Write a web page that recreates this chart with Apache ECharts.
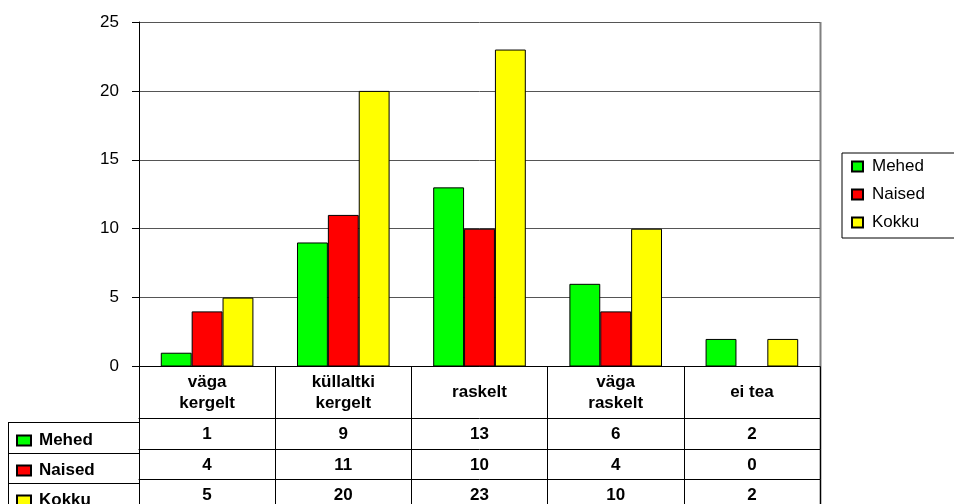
<!DOCTYPE html>
<html>
<head>
<meta charset="utf-8">
<script src="https://cdn.jsdelivr.net/npm/echarts@6/dist/echarts.min.js"></script>
<style>
  html, body { margin: 0; padding: 0; background: #fff; }
  #chart { width: 954px; height: 504px; }
</style>
</head>
<body>
<div id="chart"></div>
<script>
// andmed
const categories = ['väga\nkergelt', 'küllaltki\nkergelt', 'raskelt', 'väga\nraskelt', 'ei tea']
const seriesNames = ['Mehed', 'Naised', 'Kokku']
const mehed = [1, 9, 13, 6, 2]
const naised = [4, 11, 10, 4, 0]
const kokku = [5, 20, 23, 10, 2]
const yTicks = [0, 5, 10, 15, 20, 25]
const colors = ['#00FF00', '#FF0000', '#FFFF00']

const font = 'Liberation Sans, Arial, sans-serif'
const gridLeft = 139
const gridRight = 134
const gridTop = 22
const gridBottom = 134
const axisY = 504 - gridBottom
const rowOffsets = [52, 83, 113]
const rowHeights = [31, 30, 30]
const tableLeft = 8

const values = [mehed, naised, kokku]

const myChart = echarts.init(document.getElementById('chart'))

const xAxes = [
  {
    type: 'category',
    data: categories,
    position: 'bottom',
    axisLine: { lineStyle: { color: '#000', width: 1 } },
    axisTick: { show: true, interval: 0, length: rowOffsets[0], lineStyle: { color: '#000' } },
    axisLabel: {
      interval: 0,
      margin: 26,
      verticalAlign: 'middle',
      color: '#000',
      fontFamily: font,
      fontWeight: 'bold',
      fontSize: 17,
      lineHeight: 21
    }
  }
]
values.forEach((arr, i) => {
  xAxes.push({
    type: 'category',
    data: categories,
    position: 'bottom',
    offset: rowOffsets[i],
    axisLine: { lineStyle: { color: '#000', width: 1 } },
    axisTick: { show: true, interval: 0, length: rowHeights[i], lineStyle: { color: '#000' } },
    axisLabel: {
      interval: 0,
      margin: 16,
      verticalAlign: 'middle',
      color: '#000',
      fontFamily: font,
      fontWeight: 'bold',
      fontSize: 17,
      formatter: (v, idx) => String(arr[idx])
    }
  })
})

const tableBottom = axisY + rowOffsets[2] + rowHeights[2]
const graphics = [
  // vasak veerg (rea nimed)
  { type: 'line', shape: { x1: tableLeft + 0.5, y1: axisY + rowOffsets[0], x2: tableLeft + 0.5, y2: tableBottom }, style: { stroke: '#000', lineWidth: 1 } },
  // parem serv
  { type: 'line', shape: { x1: 954 - gridRight + 0.5, y1: gridTop, x2: 954 - gridRight + 0.5, y2: tableBottom }, style: { stroke: '#808080', lineWidth: 2 } }
]
rowOffsets.forEach((off) => {
  graphics.push({ type: 'line', shape: { x1: tableLeft, y1: axisY + off + 0.5, x2: gridLeft, y2: axisY + off + 0.5 }, style: { stroke: '#000', lineWidth: 1 } })
})

const options = {
  backgroundColor: '#fff',
  animation: false,
  grid: {
    left: gridLeft,
    right: gridRight,
    top: gridTop,
    bottom: gridBottom,
    containLabel: false
  },
  legend: [
    {
      orient: 'vertical',
      left: 842,
      top: 153,
      padding: [5, 40, 7, 9],
      borderColor: '#000',
      borderWidth: 1,
      itemWidth: 11,
      itemHeight: 10,
      itemGap: 11,
      icon: 'rect',
      textStyle: { color: '#000', fontFamily: font, fontSize: 17, lineHeight: 16, padding: [0, 0, 0, 4] },
      data: seriesNames
    },
    {
      orient: 'vertical',
      left: 16,
      top: axisY + rowOffsets[0] + 10,
      height: 120,
      padding: 0,
      itemWidth: 14,
      itemHeight: 10,
      itemGap: 13,
      icon: 'rect',
      selectedMode: false,
      textStyle: { color: '#000', fontFamily: font, fontSize: 17, fontWeight: 'bold', lineHeight: 16, padding: [0, 0, 0, 3] },
      data: seriesNames
    }
  ],
  xAxis: xAxes,
  yAxis: {
    type: 'value',
    min: yTicks[0],
    max: yTicks[yTicks.length - 1],
    interval: 5,
    axisLine: { show: true, lineStyle: { color: '#000' } },
    axisTick: { show: true, length: 7, lineStyle: { color: '#000' } },
    axisLabel: { color: '#000', fontFamily: font, fontSize: 17, margin: 20 },
    splitLine: { show: true, lineStyle: { color: '#555', width: 1 } }
  },
  graphic: graphics,
  series: seriesNames.map((name, i) => ({
    name: name,
    type: 'bar',
    xAxisIndex: 0,
    barGap: '0%',
    barCategoryGap: '32%',
    itemStyle: { color: colors[i], borderColor: '#000', borderWidth: 1 },
    data: values[i]
  }))
}
myChart.setOption(options)
</script>
</body>
</html>
